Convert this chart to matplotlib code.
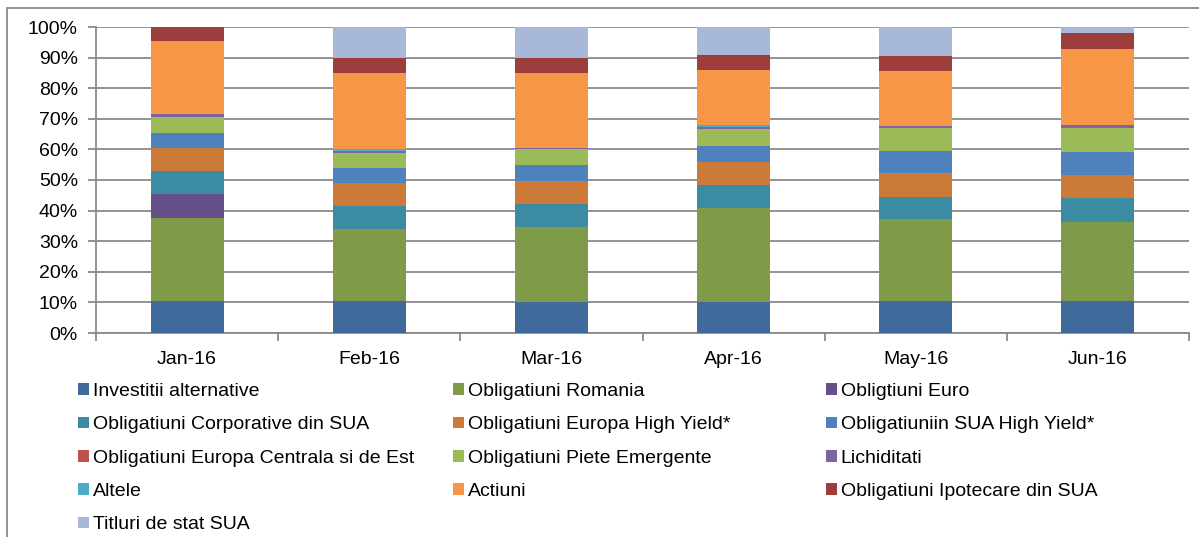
import matplotlib
matplotlib.use("Agg")
from matplotlib import pyplot as plt
from matplotlib.patches import Patch, Rectangle
import numpy as np

plt.rcParams['font.family'] = ['Liberation Sans', 'DejaVu Sans']

months = ['Jan-16', 'Feb-16', 'Mar-16', 'Apr-16', 'May-16', 'Jun-16']

# percentages per month
investitii_alternative = [10.3, 10.3, 10.0, 10.0, 10.3, 10.3]
oblig_romania = [27.2, 23.7, 24.6, 30.8, 26.9, 25.9]
oblig_euro = [8.0, 0, 0, 0, 0, 0]
oblig_corporative_sua = [7.3, 7.5, 7.5, 7.6, 7.4, 7.9]
oblig_europa_hy = [7.8, 7.4, 7.6, 7.6, 7.6, 7.4]
oblig_sua_hy = [4.9, 5.1, 5.2, 5.2, 7.4, 7.5]
oblig_europa_centrala = [0, 0, 0, 0, 0, 0]
oblig_piete_emergente = [5.2, 4.9, 5.1, 5.4, 7.5, 7.9]
lichiditati = [0.8, 0.5, 0.3, 0.8, 0.7, 1.1]
altele = [0, 0.6, 0, 0.5, 0, 0]
actiuni = [24.0, 25.0, 24.8, 18.1, 17.9, 24.8]
oblig_ipotecare_sua = [4.5, 4.9, 4.9, 4.9, 4.9, 5.1]
titluri_stat_sua = [0, 10.1, 10.0, 9.1, 9.4, 2.1]

series = [
    ('Investitii alternative', investitii_alternative, '#40699C'),
    ('Obligatiuni Romania', oblig_romania, '#7F9A48'),
    ('Obligtiuni Euro', oblig_euro, '#67508A'),
    ('Obligatiuni Corporative din SUA', oblig_corporative_sua, '#3B8BA2'),
    ('Obligatiuni Europa High Yield*', oblig_europa_hy, '#CC7A37'),
    ('Obligatiuniin SUA High Yield*', oblig_sua_hy, '#4F81BD'),
    ('Obligatiuni Europa Centrala si de Est', oblig_europa_centrala, '#C0504D'),
    ('Obligatiuni Piete Emergente', oblig_piete_emergente, '#9BBB59'),
    ('Lichiditati', lichiditati, '#8064A2'),
    ('Altele', altele, '#4BACC6'),
    ('Actiuni', actiuni, '#F79646'),
    ('Obligatiuni Ipotecare din SUA', oblig_ipotecare_sua, '#9B3E3C'),
    ('Titluri de stat SUA', titluri_stat_sua, '#A8B8D8'),
]

W, H = 1199, 537
fig = plt.figure(figsize=(W / 100, H / 100), dpi=100)
ax = fig.add_axes([96 / W, 1 - 333 / H, (1189 - 96) / W, (333 - 27) / H])

x = np.arange(len(months))
bottom = np.zeros(len(months))
handles = []
for name, vals, col in series:
    vals = np.array(vals, dtype=float)
    ax.bar(x, vals, 0.4, bottom=bottom, color=col, zorder=3, linewidth=0)
    bottom += vals
    handles.append(Patch(facecolor=col, edgecolor='none', label=name))

gray = '#8A8A8A'
fs = 14
ax.set_xlim(-0.5, len(months) - 0.5)
ax.set_ylim(0, 100)
ax.set_yticks(np.arange(0, 101, 10))
ax.set_yticklabels([f'{v}%' for v in range(0, 101, 10)], fontsize=fs)
ax.yaxis.grid(True, color=gray, linewidth=1.3, zorder=0)
ax.set_axisbelow(True)
ax.set_xticks(x)
ax.set_xticklabels(months, fontsize=fs)
ax.set_xticks(np.arange(-0.5, len(months)), minor=True)
ax.tick_params(axis='x', which='major', length=0, pad=13)
ax.tick_params(axis='x', which='minor', length=6, color=gray, width=1.3)
ax.tick_params(axis='y', length=6, color=gray, width=1.3, pad=7)
for s in ['top', 'right']:
    ax.spines[s].set_visible(False)
for s in ['left', 'bottom']:
    ax.spines[s].set_color(gray)
    ax.spines[s].set_linewidth(1.3)

# legend: three columns, filled row by row like the original
col_x = [78, 453, 826]
for c in range(3):
    hs = handles[c::3]
    fig.legend(handles=hs, loc='upper left', bbox_to_anchor=(col_x[c] / W, 1 - 383 / H),
               frameon=False, fontsize=fs, handlelength=0.55, handleheight=0.55,
               handletextpad=0.2, labelspacing=0.84, borderaxespad=0, borderpad=0)

# outer chart border
fig.add_artist(Rectangle((7 / W, -0.1), 1.2, 1.1 - 8 / H, transform=fig.transFigure,
                         fill=False, edgecolor=gray, linewidth=1.3))

fig.savefig('out.png', dpi=100)
